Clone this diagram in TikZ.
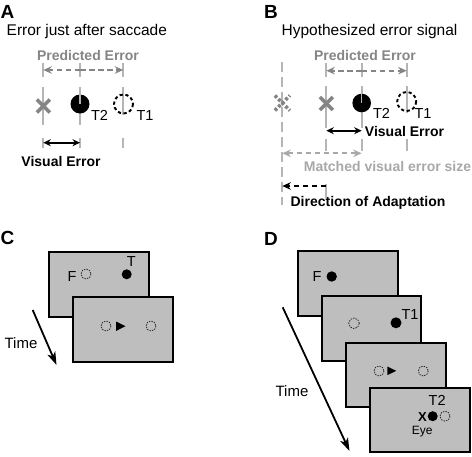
\documentclass[tikz,border=0pt]{standalone}
\usepackage{fontspec}
\setmainfont{Liberation Sans}
\usetikzlibrary{arrows.meta,calc}
\definecolor{midgray}{HTML}{858585}
\definecolor{lightgray2}{HTML}{A8A8A8}
\definecolor{linegray}{HTML}{B5B5B5}
\definecolor{screen}{HTML}{BEBEBE}
\begin{document}
\begin{tikzpicture}[x=1pt,y=-1pt,
  panel/.style={font=\fontsize{19}{19}\selectfont\bfseries, inner sep=0, anchor=base},
  ttl/.style={font=\fontsize{15.5}{16}\selectfont, inner sep=0, anchor=base},
  lbl/.style={font=\fontsize{14}{14}\selectfont\bfseries, inner sep=0, anchor=base},
  tlbl/.style={font=\fontsize{14.5}{15}\selectfont, inner sep=0, anchor=base},
  vline/.style={draw=linegray, line width=1.8pt},
  grayarrow/.style={draw=midgray, line width=1.9pt, dash pattern=on 5.5pt off 3.5pt, -{Stealth[length=8.5pt,width=7.5pt]}},
  blackdbl/.style={draw=black, line width=1.9pt, {Stealth[length=7.5pt,width=7pt]}-{Stealth[length=7.5pt,width=7pt]}},
  xmark/.style={draw=midgray, line width=3.6pt},
  bigdash/.style={draw=black, line width=1.9pt, dash pattern=on 3.2pt off 2.6pt},
  smalldash/.style={draw=black!85, line width=0.8pt, dash pattern=on 1.4pt off 1.2pt},
  scr/.style={draw=black, line width=2pt, fill=screen},
  timearrow/.style={draw=black, line width=1.8pt, -{Stealth[length=13pt,width=8.5pt,inset=3.5pt]}}
]
\useasboundingbox (0,0) rectangle (472,456);

% ================= Panel A =================
\node[panel] (labA) at (7.5,18.3) {A};
\node[ttl, anchor=base west] (titA) at (6.5,35.7) {Error just after saccade};
\node[lbl, text=midgray] (peA) at (88,60.7) {Predicted Error};
% vertical guide lines
\foreach \x in {43.3,80,123.3} {
  \draw[vline] (\x,63) -- (\x,77);
  \draw[vline] (\x,138) -- (\x,147.5);
}
\draw[vline] (43.3,87) -- (43.3,125);
\draw[vline] (80,87) -- (80,125);
\draw[vline] (123.3,87) -- (123.3,115);
% predicted error arrows
\coordinate (pA0) at (43.3,70);
\coordinate (pA1) at (80,70);
\coordinate (pA2) at (123.3,70);
\draw[grayarrow] (pA1) -- (pA0);
\draw[grayarrow] (pA1) -- (pA2);
% eye, T2, T1
\coordinate (xA) at (43.3,106);
\draw[xmark] ($(xA)+(-6.5,-6.5)$) -- ($(xA)+(6.5,6.5)$);
\draw[xmark] ($(xA)+(-6.5,6.5)$) -- ($(xA)+(6.5,-6.5)$);
\fill (80,104) circle (9.5);
\draw[vline, line width=1.2pt] (80,94) -- (80,104);
\draw[bigdash] (123.5,104) circle (9.5);
\node[tlbl] (t2A) at (99.5,120) {T2};
\node[tlbl] (t1A) at (145,120) {T1};
% visual error
\coordinate (vA0) at (43.3,142.7);
\coordinate (vA1) at (80,142.7);
\draw[blackdbl] (vA0) -- (vA1);
\node[lbl] (veA) at (61,166.7) {Visual Error};

% ================= Panel B =================
\node[panel] (labB) at (271,18.3) {B};
\node[ttl] (titB) at (369.5,35.7) {Hypothesized error signal};
\node[lbl, text=midgray] (peB) at (365,60) {Predicted Error};
% guide lines
\draw[vline, dash pattern=on 10pt off 5pt] (282.3,62) -- (282.3,205);
\foreach \x in {326.3,361.7,406.7} {
  \draw[vline] (\x,63) -- (\x,77);
  \draw[vline] (\x,139) -- (\x,151);
}
\draw[vline] (326.3,86) -- (326.3,128);
\draw[vline] (361.7,86) -- (361.7,128);
\draw[vline] (406.7,86) -- (406.7,113);
\draw[vline] (326.3,184) -- (326.3,198);
% predicted error arrows
\coordinate (pB1) at (326.3,70.7);
\coordinate (pB2) at (361.7,70.7);
\coordinate (pB3) at (406.7,70.7);
\draw[grayarrow] (pB2) -- (pB1);
\draw[grayarrow] (pB2) -- (pB3);
% dotted ghost X
\coordinate (gB) at (282.3,103);
\draw[draw=midgray, line width=3.6pt, dash pattern=on 3pt off 2pt] ($(gB)+(-7.5,-7.5)$) -- ($(gB)+(7.5,7.5)$);
\draw[draw=midgray, line width=3.6pt, dash pattern=on 3pt off 2pt] ($(gB)+(-7.5,7.5)$) -- ($(gB)+(7.5,-7.5)$);
% X, T2, T1
\coordinate (xB) at (326.3,103.5);
\draw[xmark] ($(xB)+(-6.5,-6.5)$) -- ($(xB)+(6.5,6.5)$);
\draw[xmark] ($(xB)+(-6.5,6.5)$) -- ($(xB)+(6.5,-6.5)$);
\fill (361.7,103) circle (9.3);
\draw[vline, line width=1.2pt] (361.7,93) -- (361.7,103);
\draw[bigdash] (406.7,101.5) circle (9.5);
\node[tlbl] (t2B) at (381.5,118) {T2};
\node[tlbl] (t1B) at (423,118) {T1};
% visual error
\coordinate (vB0) at (326.3,130.7);
\coordinate (vB1) at (361.7,130.7);
\draw[blackdbl] (vB0) -- (vB1);
\node[lbl] (veB) at (404.5,136.7) {Visual Error};
% matched visual error size
\coordinate (mB0) at (282.3,153.3);
\coordinate (mB1) at (361.7,153.3);
\draw[draw=lightgray2, line width=1.9pt, dash pattern=on 5.5pt off 3.5pt, {Stealth[length=8.5pt,width=7.5pt]}-{Stealth[length=8.5pt,width=7.5pt]}] (mB0) -- (mB1);
\node[lbl, text=lightgray2] (mvB) at (387.5,171.3) {Matched visual error size};
% direction of adaptation
\coordinate (dB0) at (282.3,186);
\coordinate (dB1) at (326.3,186);
\draw[draw=black, line width=1.9pt, dash pattern=on 5.5pt off 3.5pt, -{Stealth[length=8.5pt,width=7.5pt]}] (dB1) -- (dB0);
\node[lbl] (daB) at (368,206.5) {Direction of Adaptation};

% ================= Panel C =================
\node[panel] (labC) at (7.5,244) {C};
\draw[scr] (49.3,251.7) rectangle (148.7,316.7);
\node[tlbl] (fC) at (72,281.7) {F};
\draw[smalldash] (86,274) circle (5);
\fill (126.7,274.3) circle (5);
\node[tlbl] (tC) at (131.3,266.7) {T};
\draw[scr] (73.3,297) rectangle (173,361.7);
\draw[smalldash] (106,326) circle (5);
\fill (116,321.5) -- (116,331) -- (125.5,326.2) -- cycle;
\draw[smalldash] (151,326) circle (5);
\coordinate (tmC0) at (32.7,310);
\coordinate (tmC1) at (56.5,365);
\draw[timearrow] (tmC0) -- (tmC1);
\node[tlbl, font=\fontsize{15}{15}\selectfont] (timeC) at (21,348.3) {Time};

% ================= Panel D =================
\node[panel] (labD) at (271,245) {D};
\draw[scr] (297.7,251) rectangle (398,316);
\node[tlbl] (fD) at (317,281.7) {F};
\fill (331.7,276.5) circle (5.2);
\draw[scr] (322,296) rectangle (421.3,361);
\draw[smalldash] (354,323.3) circle (5.3);
\fill (396,322.8) circle (5.5);
\node[tlbl] (t1D) at (410,319) {T1};
\draw[scr] (346,342.7) rectangle (445.7,406.7);
\draw[smalldash] (379,371) circle (5);
\fill (387.3,366.5) -- (387.3,375.2) -- (396.2,370.8) -- cycle;
\draw[smalldash] (423.3,371) circle (5);
\draw[scr] (370.3,387.7) rectangle (470,452.3);
\node[tlbl] (t2D) at (437.2,405) {T2};
\node[font=\fontsize{13}{13}\selectfont\bfseries, inner sep=0, anchor=base] (xD) at (422.5,421.7) {X};
\fill (432.7,416.2) circle (5);
\draw[smalldash] (445,416.2) circle (5);
\node[font=\fontsize{12}{12}\selectfont, inner sep=0, anchor=base] (eyeD) at (422.2,434.5) {Eye};
\coordinate (tmD0) at (282.7,307.3);
\coordinate (tmD1) at (349.5,451);
\draw[timearrow] (tmD0) -- (tmD1);
\node[tlbl, font=\fontsize{15}{15}\selectfont] (timeD) at (292,396.7) {Time};
\end{tikzpicture}
\end{document}
